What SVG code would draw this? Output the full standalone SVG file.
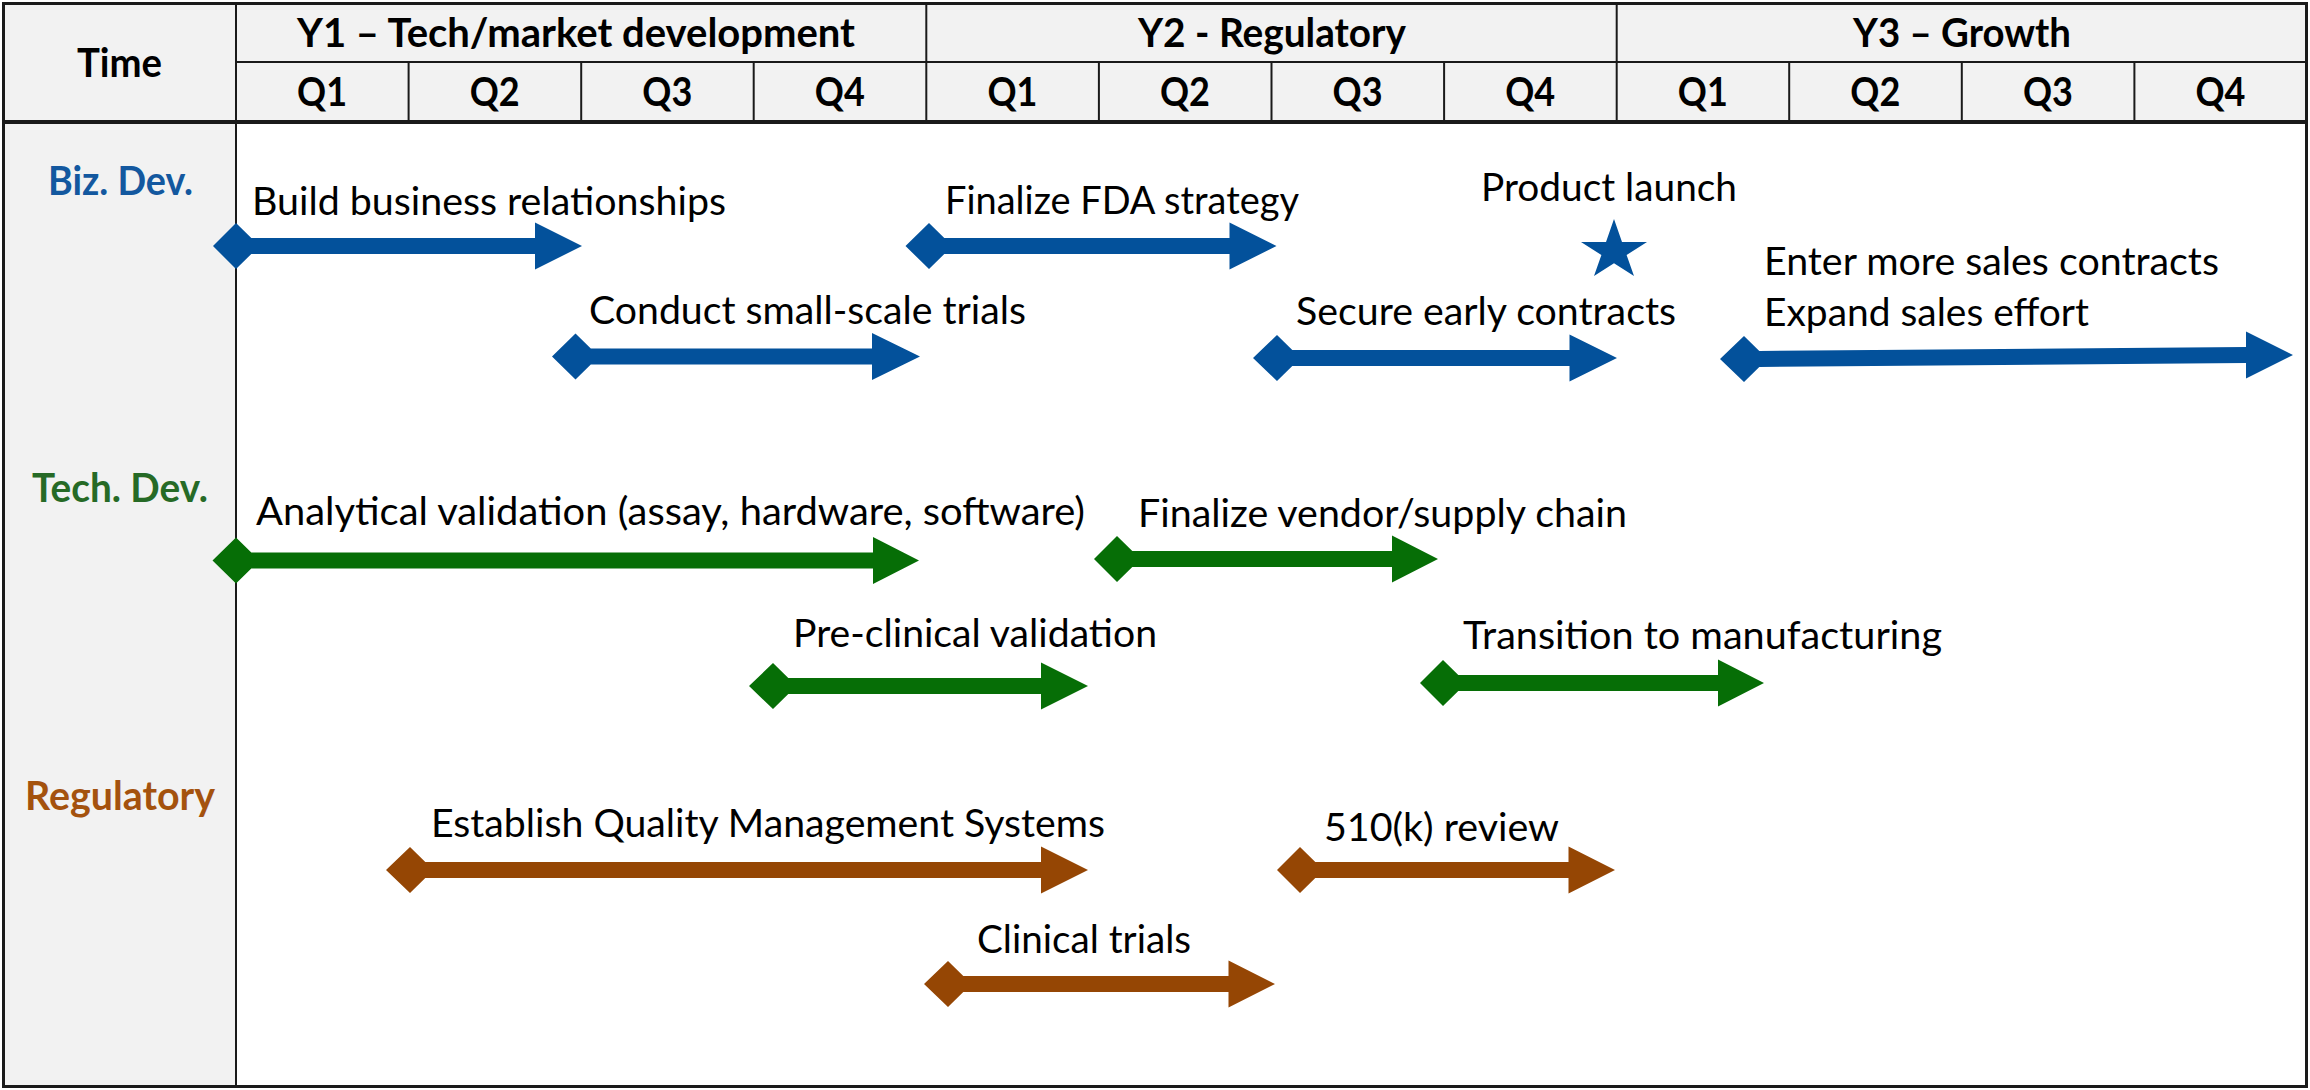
<svg xmlns="http://www.w3.org/2000/svg" width="2310" height="1090" viewBox="0 0 2310 1090">
  <style>
    .txt { font-family: Lato, "Open Sans", "Liberation Sans", sans-serif; font-size: 39px; fill: #000; }
    .bold { font-weight: bold; font-size: 41px; }
    .hdr { fill: #f2f2f2; }
    .grid { stroke: #1a1a1a; stroke-width: 2; fill: none; }
    .edge { stroke: #1a1a1a; stroke-width: 3; fill: none; }
    .biz { fill: #03519b; }
    .tech { fill: #066e06; }
    .reg { fill: #954604; }
    .biz-t { fill: #13589f; }
    .tech-t { fill: #266a26; }
    .reg-t { fill: #a4520e; }
  </style>

  <!-- background, header band and lane-title column -->
  <g id="table">
    <rect x="0" y="0" width="2310" height="1090" fill="#ffffff"/>
    <rect class="hdr" x="3" y="3" width="2304" height="119"/>
    <rect class="hdr" x="3" y="122" width="233" height="965"/>

    <!-- header grid -->
    <line class="grid" x1="236" y1="62" x2="2307" y2="62"/>
    <line class="grid" x1="926.3" y1="3" x2="926.3" y2="122"/>
    <line class="grid" x1="1616.7" y1="3" x2="1616.7" y2="122"/>
    <line class="grid" x1="408.6" y1="62" x2="408.6" y2="122"/>
    <line class="grid" x1="581.2" y1="62" x2="581.2" y2="122"/>
    <line class="grid" x1="753.7" y1="62" x2="753.7" y2="122"/>
    <line class="grid" x1="1098.9" y1="62" x2="1098.9" y2="122"/>
    <line class="grid" x1="1271.5" y1="62" x2="1271.5" y2="122"/>
    <line class="grid" x1="1444.1" y1="62" x2="1444.1" y2="122"/>
    <line class="grid" x1="1789.2" y1="62" x2="1789.2" y2="122"/>
    <line class="grid" x1="1961.8" y1="62" x2="1961.8" y2="122"/>
    <line class="grid" x1="2134.4" y1="62" x2="2134.4" y2="122"/>
    <line class="grid" x1="236" y1="3" x2="236" y2="1087"/>
    <line x1="3" y1="122" x2="2307" y2="122" stroke="#1a1a1a" stroke-width="4"/>
    <rect class="edge" x="3.5" y="3.5" width="2303" height="1083"/>

    <!-- header labels -->
    <text class="txt bold" x="77" y="77" textLength="85" lengthAdjust="spacingAndGlyphs">Time</text>
    <text class="txt bold" x="297" y="47" textLength="558" lengthAdjust="spacingAndGlyphs">Y1 – Tech/market development</text>
    <text class="txt bold" x="1138" y="47" textLength="268" lengthAdjust="spacingAndGlyphs">Y2 - Regulatory</text>
    <text class="txt bold" x="1853" y="47" textLength="218" lengthAdjust="spacingAndGlyphs">Y3 – Growth</text>
    <g class="txt bold">
      <text x="297.1" y="106" textLength="50" lengthAdjust="spacingAndGlyphs">Q1</text>
      <text x="469.7" y="106" textLength="50" lengthAdjust="spacingAndGlyphs">Q2</text>
      <text x="642.3" y="106" textLength="50" lengthAdjust="spacingAndGlyphs">Q3</text>
      <text x="814.8" y="106" textLength="50" lengthAdjust="spacingAndGlyphs">Q4</text>
      <text x="987.4" y="106" textLength="50" lengthAdjust="spacingAndGlyphs">Q1</text>
      <text x="1160" y="106" textLength="50" lengthAdjust="spacingAndGlyphs">Q2</text>
      <text x="1332.6" y="106" textLength="50" lengthAdjust="spacingAndGlyphs">Q3</text>
      <text x="1505.2" y="106" textLength="50" lengthAdjust="spacingAndGlyphs">Q4</text>
      <text x="1677.8" y="106" textLength="50" lengthAdjust="spacingAndGlyphs">Q1</text>
      <text x="1850.3" y="106" textLength="50" lengthAdjust="spacingAndGlyphs">Q2</text>
      <text x="2022.9" y="106" textLength="50" lengthAdjust="spacingAndGlyphs">Q3</text>
      <text x="2195.5" y="106" textLength="50" lengthAdjust="spacingAndGlyphs">Q4</text>
    </g>

    <!-- lane titles -->
    <text class="txt bold biz-t" x="48" y="195" textLength="145" lengthAdjust="spacingAndGlyphs">Biz. Dev.</text>
    <text class="txt bold tech-t" x="32" y="502" textLength="176" lengthAdjust="spacingAndGlyphs">Tech. Dev.</text>
    <text class="txt bold reg-t" x="25" y="810" textLength="190" lengthAdjust="spacingAndGlyphs">Regulatory</text>
  </g>

  <!-- timeline bars carry no links between tasks -->
  <g id="connectors"></g>

  <!-- Business development lane -->
  <g id="build-relationships">
    <polygon class="biz" points="213,246 236,223 251.3,238 535,238 535,222.5 582,246 535,269.5 535,254 251.3,254 236,269"/>
    <text class="txt" x="252" y="215" textLength="474" lengthAdjust="spacingAndGlyphs">Build business relationships</text>
  </g>
  <g id="finalize-fda">
    <polygon class="biz" points="905.5,246 929,223 944.3,238 1229.5,238 1229.5,222.5 1276.5,246 1229.5,269.5 1229.5,254 944.3,254 929,269"/>
    <text class="txt" x="945" y="214" textLength="354" lengthAdjust="spacingAndGlyphs">Finalize FDA strategy</text>
  </g>
  <g id="product-launch">
    <polygon class="biz" points="1614,219 1622,242 1647,242 1626.6,255 1634,276 1614,263.2 1594,276 1601.4,255 1581,242 1606,242"/>
    <text class="txt" x="1481" y="201" textLength="256" lengthAdjust="spacingAndGlyphs">Product launch</text>
  </g>
  <g id="small-scale-trials">
    <polygon class="biz" points="552,356.5 575.5,333.5 590.8,348.5 872,348.5 872,333 920,356.5 872,380 872,364.5 590.8,364.5 575.5,379.5"/>
    <text class="txt" x="589" y="324" textLength="437" lengthAdjust="spacingAndGlyphs">Conduct small-scale trials</text>
  </g>
  <g id="early-contracts">
    <polygon class="biz" points="1253,358 1277,335 1292.3,350 1569.5,350 1569.5,334.5 1617,358 1569.5,381.5 1569.5,366 1292.3,366 1277,381"/>
    <text class="txt" x="1296" y="325" textLength="380" lengthAdjust="spacingAndGlyphs">Secure early contracts</text>
  </g>
  <g id="expand-sales">
    <polygon class="biz" points="1720,359 1744,336 1759.3,351 2246,347 2246,331.5 2293,355 2246,378.5 2246,363 1759.3,367 1744,382"/>
    <text class="txt" x="1764" y="275" textLength="455" lengthAdjust="spacingAndGlyphs">Enter more sales contracts</text>
    <text class="txt" x="1764" y="326" textLength="325" lengthAdjust="spacingAndGlyphs">Expand sales effort</text>
  </g>

  <!-- Technical development lane -->
  <g id="analytical-validation">
    <polygon class="tech" points="212.5,560.5 236,537.5 251.3,552.5 873,552.5 873,537 919,560.5 873,584 873,568.5 251.3,568.5 236,583.5"/>
    <text class="txt" x="256" y="525" textLength="829" lengthAdjust="spacingAndGlyphs">Analytical validation (assay, hardware, software)</text>
  </g>
  <g id="vendor-supply-chain">
    <polygon class="tech" points="1094,559 1117,536 1132.3,551 1392,551 1392,535.5 1438,559 1392,582.5 1392,567 1132.3,567 1117,582"/>
    <text class="txt" x="1138" y="527" textLength="489" lengthAdjust="spacingAndGlyphs">Finalize vendor/supply chain</text>
  </g>
  <g id="pre-clinical-validation">
    <polygon class="tech" points="749,686 773,663 788.3,678 1041,678 1041,662.5 1088,686 1041,709.5 1041,694 788.3,694 773,709"/>
    <text class="txt" x="793" y="647" textLength="364" lengthAdjust="spacingAndGlyphs">Pre-clinical validation</text>
  </g>
  <g id="transition-manufacturing">
    <polygon class="tech" points="1420,683 1443,660 1458.3,675 1718,675 1718,659.5 1764,683 1718,706.5 1718,691 1458.3,691 1443,706"/>
    <text class="txt" x="1463" y="649" textLength="479" lengthAdjust="spacingAndGlyphs">Transition to manufacturing</text>
  </g>

  <!-- Regulatory lane -->
  <g id="quality-management">
    <polygon class="reg" points="386,870 410,847 425.3,862 1041,862 1041,846.5 1088,870 1041,893.5 1041,878 425.3,878 410,893"/>
    <text class="txt" x="431" y="837" textLength="674" lengthAdjust="spacingAndGlyphs">Establish Quality Management Systems</text>
  </g>
  <g id="review-510k">
    <polygon class="reg" points="1277,870 1300,847 1315.3,862 1568.5,862 1568.5,846.5 1615,870 1568.5,893.5 1568.5,878 1315.3,878 1300,893"/>
    <text class="txt" x="1324" y="841" textLength="235" lengthAdjust="spacingAndGlyphs">510(k) review</text>
  </g>
  <g id="clinical-trials">
    <polygon class="reg" points="924,984 948,961 963.3,976 1228.5,976 1228.5,960.5 1275,984 1228.5,1007.5 1228.5,992 963.3,992 948,1007"/>
    <text class="txt" x="977" y="953" textLength="214" lengthAdjust="spacingAndGlyphs">Clinical trials</text>
  </g>
</svg>
